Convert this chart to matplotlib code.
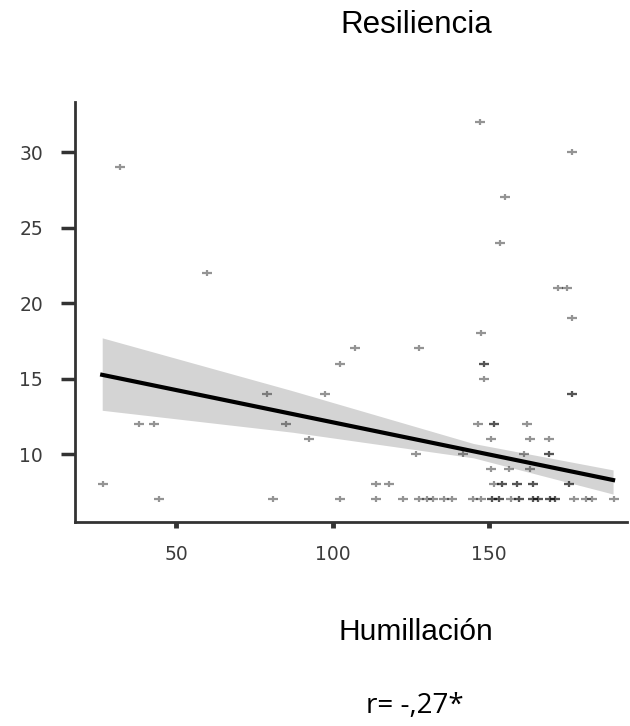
import matplotlib
matplotlib.use("Agg")
import matplotlib.pyplot as plt
from matplotlib.path import Path

# puntos (Humillacion vs Resiliencia)
humillacion = [32, 60, 147, 176.5, 155, 153.5, 172, 175, 176.5, 147.5,
               107, 127.5, 102.5, 148.5, 148.5, 148.5,
               79, 97.5, 176.5, 176.5,
               38, 43, 85, 146.5, 151.5, 151.5, 162,
               92.5, 150.5, 163, 169,
               126.5, 141.5, 161, 169, 169,
               150.5, 156.5, 163,
               26.5, 114, 118, 151.5, 154, 154, 159, 159, 164, 164, 175.5, 175.5,
               44.5, 81, 102.5, 114, 122.5, 127.5, 130, 132, 135.5, 138, 145, 147.5,
               151, 151, 153, 153, 157, 159.5, 159.5, 164, 164, 165.5, 165.5,
               169.5, 169.5, 171, 171, 177, 181, 183, 190]
resiliencia = [29, 22, 32, 30, 27, 24, 21, 21, 19, 18,
               17, 17, 16, 16, 16, 15,
               14, 14, 14, 14,
               12, 12, 12, 12, 12, 12, 12,
               11, 11, 11, 11,
               10, 10, 10, 10, 10,
               9, 9, 9,
               8, 8, 8, 8, 8, 8, 8, 8, 8, 8, 8, 8,
               7, 7, 7, 7, 7, 7, 7, 7, 7, 7, 7, 7,
               7, 7, 7, 7, 7, 7, 7, 7, 7, 7, 7,
               7, 7, 7, 7, 7, 7, 7, 7]

# recta de regresion y banda de confianza
ajuste_x = [26.4, 189.6]
ajuste_y = [15.25, 8.28]
banda_x = [26.4, 87.1, 145, 189.6]
banda_sup = [17.7, 14.2, 10.7, 8.95]
banda_inf = [12.9, 11.45, 9.75, 7.35]

xticks = [50, 100, 150]
yticks = [10, 15, 20, 25, 30]

# marcador "+" mas ancho que alto
cruz = Path([(-1, 0), (1, 0), (0, -0.55), (0, 0.55)],
            [Path.MOVETO, Path.LINETO, Path.MOVETO, Path.LINETO])

fig = plt.figure(figsize=(6.3, 7.26), dpi=100)
ax = fig.add_axes([0.119, 0.281, 0.876, 0.578])

ax.fill_between(banda_x, banda_inf, banda_sup, color="#d4d4d4", lw=0, zorder=1)
ax.plot(humillacion, resiliencia, linestyle="none", marker=cruz,
        markersize=7.5, markeredgewidth=1.6, color="black", alpha=0.42, zorder=2)
ax.plot(ajuste_x, ajuste_y, color="black", lw=3, zorder=3)

ax.set_xlim(17.7, 194)
ax.set_ylim(5.5, 33.3)
ax.set_xticks(xticks)
ax.set_yticks(yticks)

for s in ["top", "right"]:
    ax.spines[s].set_visible(False)
for s in ["left", "bottom"]:
    ax.spines[s].set_linewidth(2)
    ax.spines[s].set_color("#333333")

ax.tick_params(axis="y", length=10, width=2.5, pad=13, color="#333333",
               labelsize=13.5, labelcolor="#3c3c3c")
ax.tick_params(axis="x", length=4.5, width=3.5, pad=12, color="#333333",
               labelsize=13.5, labelcolor="#3c3c3c")

fig.text(416 / 630, 1 - 25 / 726, "Resiliencia", ha="center", va="center",
         fontsize=22.5, family="Liberation Sans")
fig.text(416 / 630, 1 - 632 / 726, "Humillación", ha="center", va="center",
         fontsize=21.5, family="Liberation Sans")
fig.text(415 / 630, 1 - 706 / 726, "r= -,27*", ha="center", va="center",
         fontsize=20, family="Open Sans")

fig.savefig("out.png", dpi=100)
